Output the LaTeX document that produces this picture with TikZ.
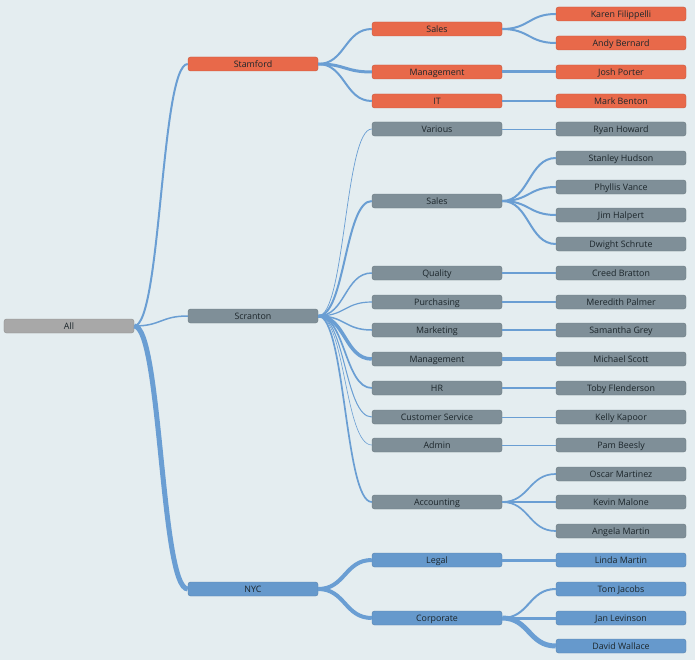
\documentclass[tikz,border=0pt]{standalone}
\usepackage{fontspec}
\setmainfont{Open Sans}
\usepackage{tikz}
\usetikzlibrary{positioning}

\definecolor{bgcol}{HTML}{E4EDF0}
\definecolor{stamcol}{HTML}{E8694A}
\definecolor{scrcol}{HTML}{7F8F98}
\definecolor{nyccol}{HTML}{6699CC}
\definecolor{allcol}{HTML}{A8A8A8}
\definecolor{linkcol}{HTML}{6A9ED3}
\definecolor{txtcol}{HTML}{1C262B}

\newcommand{\lnk}[3]{\draw[link, line width=#1bp] (#2.east) .. controls +(27,0) and +(-27,0) .. (#3.west);}

\begin{document}
\begin{tikzpicture}[x=1bp, y=-1bp,
    box/.style={rounded corners=2.5bp, minimum width=130bp, minimum height=14bp,
      inner sep=0pt, text=txtcol, font=\fontsize{8.9}{9}\selectfont,
      text height=6.6bp, text depth=0bp, line width=0.4bp},
    stam/.style={box, fill=stamcol, draw=stamcol!85!black},
    scr/.style={box, fill=scrcol, draw=scrcol!85!black},
    nyc/.style={box, fill=nyccol, draw=nyccol!85!black},
    root/.style={box, fill=allcol, draw=allcol!85!black},
    link/.style={draw=linkcol, line cap=butt}]

  % Background and frame
  \fill[bgcol] (0,0) rectangle (695,660);
  \useasboundingbox (0,0) rectangle (695,660);

  % Root and offices
  \node[root] (all) at (69,326) {All};
  \node[stam] (stamford) at (253,64) {Stamford};
  \node[scr] (scranton) at (253,316) {Scranton};
  \node[nyc] (nyc) at (253,589) {NYC};

  % Stamford departments
  \node[stam] (stsales) at (437,29) {Sales};
  \node[stam] (stmgmt) at (437,72) {Management};
  \node[stam] (stit) at (437,101) {IT};

  % Scranton departments
  \node[scr] (scvarious) at (437,129) {Various};
  \node[scr] (scsales) at (437,201) {Sales};
  \node[scr] (scquality) at (437,273) {Quality};
  \node[scr] (scpurch) at (437,302) {Purchasing};
  \node[scr] (scmarket) at (437,330) {Marketing};
  \node[scr] (scmgmt) at (437,359) {Management};
  \node[scr] (schr) at (437,388) {HR};
  \node[scr] (sccust) at (437,417) {Customer Service};
  \node[scr] (scadmin) at (437,445) {Admin};
  \node[scr] (scacct) at (437,502) {Accounting};

  % NYC departments
  \node[nyc] (nylegal) at (437,560) {Legal};
  \node[nyc] (nycorp) at (437,618) {Corporate};

  % People
  \node[stam] (karen) at (621,14) {Karen Filippelli};
  \node[stam] (andy) at (621,43) {Andy Bernard};
  \node[stam] (josh) at (621,72) {Josh Porter};
  \node[stam] (markb) at (621,101) {Mark Benton};
  \node[scr] (ryan) at (621,129) {Ryan Howard};
  \node[scr] (stanley) at (621,158) {Stanley Hudson};
  \node[scr] (phyllis) at (621,187) {Phyllis Vance};
  \node[scr] (jim) at (621,215) {Jim Halpert};
  \node[scr] (dwight) at (621,244) {Dwight Schrute};
  \node[scr] (creed) at (621,273) {Creed Bratton};
  \node[scr] (meredith) at (621,302) {Meredith Palmer};
  \node[scr] (samantha) at (621,330) {Samantha Grey};
  \node[scr] (michael) at (621,359) {Michael Scott};
  \node[scr] (toby) at (621,388) {Toby Flenderson};
  \node[scr] (kelly) at (621,417) {Kelly Kapoor};
  \node[scr] (pam) at (621,445) {Pam Beesly};
  \node[scr] (oscar) at (621,474) {Oscar Martinez};
  \node[scr] (kevin) at (621,502) {Kevin Malone};
  \node[scr] (angela) at (621,531) {Angela Martin};
  \node[nyc] (linda) at (621,560) {Linda Martin};
  \node[nyc] (tom) at (621,589) {Tom Jacobs};
  \node[nyc] (jan) at (621,618) {Jan Levinson};
  \node[nyc] (david) at (621,646) {David Wallace};

  % Links from the root
  \lnk{2}{all}{stamford}
  \lnk{1.5}{all}{scranton}
  \lnk{5}{all}{nyc}

  % Stamford links
  \lnk{2}{stamford}{stsales}
  \lnk{3}{stamford}{stmgmt}
  \lnk{2}{stamford}{stit}
  \lnk{2}{stsales}{karen}
  \lnk{2}{stsales}{andy}
  \lnk{3}{stmgmt}{josh}
  \lnk{2}{stit}{markb}

  % Scranton links
  \lnk{0.7}{scranton}{scvarious}
  \lnk{2}{scranton}{scsales}
  \lnk{1.5}{scranton}{scquality}
  \lnk{1.2}{scranton}{scpurch}
  \lnk{1.5}{scranton}{scmarket}
  \lnk{3.5}{scranton}{scmgmt}
  \lnk{1.7}{scranton}{schr}
  \lnk{1}{scranton}{sccust}
  \lnk{0.6}{scranton}{scadmin}
  \lnk{1.7}{scranton}{scacct}
  \lnk{0.7}{scvarious}{ryan}
  \lnk{2}{scsales}{stanley}
  \lnk{2}{scsales}{phyllis}
  \lnk{2}{scsales}{jim}
  \lnk{2}{scsales}{dwight}
  \lnk{1.5}{scquality}{creed}
  \lnk{1.2}{scpurch}{meredith}
  \lnk{1.5}{scmarket}{samantha}
  \lnk{3.5}{scmgmt}{michael}
  \lnk{1.7}{schr}{toby}
  \lnk{1}{sccust}{kelly}
  \lnk{0.6}{scadmin}{pam}
  \lnk{1.7}{scacct}{oscar}
  \lnk{1.7}{scacct}{kevin}
  \lnk{1.7}{scacct}{angela}

  % NYC links
  \lnk{4}{nyc}{nylegal}
  \lnk{4}{nyc}{nycorp}
  \lnk{3}{nylegal}{linda}
  \lnk{2}{nycorp}{tom}
  \lnk{3}{nycorp}{jan}
  \lnk{5}{nycorp}{david}
\end{tikzpicture}
\end{document}
